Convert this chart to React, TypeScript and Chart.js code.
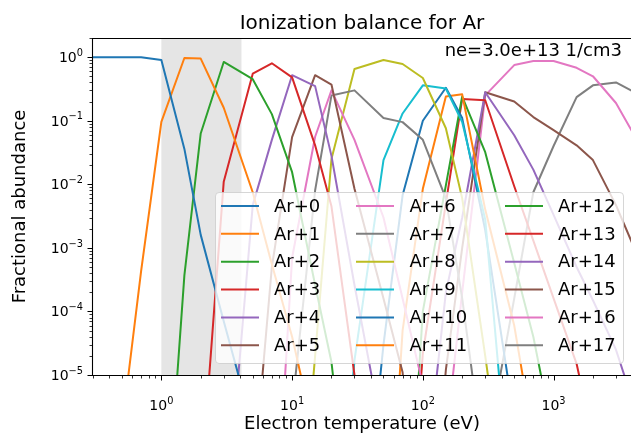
import React, { useEffect, useRef } from 'react';
import { Chart, registerables } from 'chart.js';

Chart.register(...registerables);

// Electron temperature grid (eV)
const temperatures = [0.3, 0.5, 0.7, 1, 1.5, 2, 3, 5, 7, 10, 15, 20, 30, 50, 70, 100, 150, 200, 300, 500, 700, 1000, 1500, 2000, 3000, 5000];

const ionLabels = ['Ar+0', 'Ar+1', 'Ar+2', 'Ar+3', 'Ar+4', 'Ar+5', 'Ar+6', 'Ar+7', 'Ar+8', 'Ar+9', 'Ar+10', 'Ar+11', 'Ar+12', 'Ar+13', 'Ar+14', 'Ar+15', 'Ar+16', 'Ar+17'];

const N = null;
const ar0 = [1.0, 1.0, 1.0, 0.9, 0.036, 1.6e-3, 7e-5, 1.5e-6, N, N, N, N, N, N, N, N, N, N, N, N, N, N, N, N, N, N];
const ar1 = [N, 1.5e-6, 4.3e-4, 0.096, 0.97, 0.95, 0.16, 7.5e-3, 5.5e-4, 4e-5, 1e-6, N, N, N, N, N, N, N, N, N, N, N, N, N, N, N];
const ar2 = [N, N, N, 3e-9, 3.7e-4, 0.063, 0.84, 0.45, 0.127, 0.0155, 2.6e-4, 1.6e-5, 1e-8, N, N, N, N, N, N, N, N, N, N, N, N, N];
const ar3 = [N, N, N, N, N, 1.6e-7, 0.011, 0.55, 0.8, 0.48, 0.041, 4.5e-3, 1e-5, 1e-9, N, N, N, N, N, N, N, N, N, N, N, N];
const ar4 = [N, N, N, N, N, N, 2e-8, 4.7e-3, 0.05, 0.52, 0.35, 0.028, 2.6e-4, 1e-6, N, N, N, N, N, N, N, N, N, N, N, N];
const ar5 = [N, N, N, N, N, N, N, 1.7e-7, 5e-4, 0.055, 0.52, 0.37, 8.5e-3, 1.6e-4, 1.1e-5, 1e-8, N, N, N, N, N, N, N, N, N, N];
const ar6 = [N, N, N, N, N, N, N, N, 3e-9, 7e-4, 0.056, 0.3, 0.05, 3e-3, 1.6e-4, 7e-6, 1e-9, N, N, N, N, N, N, N, N, N];
const ar7 = [N, N, N, N, N, N, N, N, N, 3e-6, 8e-3, 0.25, 0.3, 0.11, 0.095, 0.05, 6e-3, 1.6e-4, 3e-7, N, N, N, N, N, N, N];
const ar8 = [N, N, N, N, N, N, N, N, N, 1e-9, 2e-5, 0.025, 0.65, 0.9, 0.78, 0.47, 0.076, 6e-3, 2e-5, 1e-8, N, N, N, N, N, N];
const ar9 = [N, N, N, N, N, N, N, N, N, N, N, 1e-9, 1.7e-5, 0.024, 0.13, 0.36, 0.32, 0.095, 2.8e-3, 2e-8, N, N, N, N, N, N];
const ar10 = [N, N, N, N, N, N, N, N, N, N, N, N, 1e-9, 3e-5, 6.7e-3, 0.1, 0.33, 0.11, 1.9e-3, 2e-6, N, N, N, N, N, N];
const ar11 = [N, N, N, N, N, N, N, N, N, N, N, N, N, 1e-9, 5e-5, 8.5e-3, 0.24, 0.26, 4e-3, 6e-5, 1e-6, N, N, N, N, N];
const ar12 = [N, N, N, N, N, N, N, N, N, N, N, N, N, N, 1e-9, 1e-4, 9.6e-3, 0.24, 0.032, 5.8e-4, 4e-5, 1e-6, N, N, N, N];
const ar13 = [N, N, N, N, N, N, N, N, N, N, N, N, N, N, 1e-9, 2.2e-5, 5e-3, 0.22, 0.21, 9.3e-3, 1.3e-3, 1.6e-4, 1.5e-5, 1e-6, N, N];
const ar14 = [N, N, N, N, N, N, N, N, N, N, N, N, N, N, N, 1e-7, 2e-4, 3e-3, 0.28, 0.059, 0.017, 3.3e-3, 5e-4, 1.5e-4, 2.5e-5, 1e-6];
const ar15 = [N, N, N, N, N, N, N, N, N, N, N, N, N, N, N, 1e-9, 1.2e-5, 1e-3, 0.28, 0.2, 0.114, 0.071, 0.041, 0.024, 4.7e-3, 4e-4];
const ar16 = [N, N, N, N, N, N, N, N, N, N, N, N, N, N, N, 1e-10, 1e-6, 2e-4, 0.25, 0.75, 0.87, 0.87, 0.68, 0.5, 0.19, 0.03];
const ar17 = [N, N, N, N, N, N, N, N, N, N, N, N, N, N, N, N, N, N, 5e-7, 1.6e-4, 7.5e-3, 0.04, 0.235, 0.36, 0.4, 0.23];

const seriesValues = [ar0, ar1, ar2, ar3, ar4, ar5, ar6, ar7, ar8, ar9, ar10, ar11, ar12, ar13, ar14, ar15, ar16, ar17];

const palette = ['#1f77b4', '#ff7f0e', '#2ca02c', '#d62728', '#9467bd', '#8c564b', '#e377c2', '#7f7f7f', '#bcbd22', '#17becf'];

const shadeRange = [1, 4.1];
const xRange = [0.3, 3910];
const yRange = [1e-5, 2];
const xMajorTicks = [1, 10, 100, 1000];
const yMajorTicks = [1e-5, 1e-4, 1e-3, 1e-2, 1e-1, 1];

const titleText = 'Ionization balance for Ar';
const xLabel = 'Electron temperature (eV)';
const yLabel = 'Fractional abundance';
const noteText = 'ne=3.0e+13 1/cm3';

const FONT = "'DejaVu Sans', sans-serif";

function minorTicks(lo: number, hi: number): number[] {
  const out: number[] = [];
  for (let d = Math.floor(Math.log10(lo)) - 1; d <= Math.ceil(Math.log10(hi)); d++) {
    for (let k = 2; k <= 9; k++) {
      const v = k * Math.pow(10, d);
      if (v >= lo * 0.9999 && v <= hi * 1.0001) out.push(v);
    }
  }
  return out;
}

function drawPow(ctx: CanvasRenderingContext2D, value: number, x: number, y: number, align: 'center' | 'right', size: number) {
  const exp = Math.round(Math.log10(value));
  const base = '10';
  const sup = exp < 0 ? '\u2212' + String(-exp) : String(exp);
  const ss = size * 0.7;
  ctx.font = `${size}px ${FONT}`;
  const wb = ctx.measureText(base).width;
  ctx.font = `${ss}px ${FONT}`;
  const ws = ctx.measureText(sup).width;
  const total = wb + ws;
  const x0 = align === 'center' ? x - total / 2 : x - total;
  ctx.textAlign = 'left';
  ctx.textBaseline = 'alphabetic';
  ctx.font = `${size}px ${FONT}`;
  ctx.fillText(base, x0, y);
  ctx.font = `${ss}px ${FONT}`;
  ctx.fillText(sup, x0 + wb, y - size * 0.45);
}

const decorPlugin = {
  id: 'decor',
  beforeDatasetsDraw(chart: any) {
    const { ctx, chartArea: a, scales } = chart;
    const x0 = scales.x.getPixelForValue(shadeRange[0]);
    const x1 = scales.x.getPixelForValue(shadeRange[1]);
    ctx.save();
    ctx.fillStyle = '#e5e5e5';
    ctx.fillRect(x0, a.top, x1 - x0, a.bottom - a.top);
    ctx.restore();
  },
  afterDatasetsDraw(chart: any) {
    const { ctx, chartArea: a, scales } = chart;
    const xs = scales.x;
    const ys = scales.y;
    ctx.save();
    ctx.fillStyle = '#000';
    ctx.strokeStyle = '#000';

    // spines
    ctx.lineWidth = 1.1;
    ctx.beginPath();
    ctx.moveTo(Math.round(a.left) - 0.5, a.top);
    ctx.lineTo(Math.round(a.left) - 0.5, a.bottom);
    ctx.moveTo(a.left - 1, Math.round(a.top) + 0.5);
    ctx.lineTo(a.right + 2, Math.round(a.top) + 0.5);
    ctx.moveTo(a.left - 1, Math.round(a.bottom) + 0.5);
    ctx.lineTo(a.right + 2, Math.round(a.bottom) + 0.5);
    ctx.stroke();

    // x ticks
    const bottom = Math.round(a.bottom) + 0.5;
    ctx.beginPath();
    ctx.lineWidth = 1;
    xMajorTicks.forEach((v) => {
      const px = Math.round(xs.getPixelForValue(v)) + 0.5;
      ctx.moveTo(px, bottom);
      ctx.lineTo(px, bottom + 5);
    });
    ctx.stroke();
    ctx.beginPath();
    ctx.lineWidth = 0.8;
    minorTicks(xRange[0], xRange[1]).forEach((v) => {
      const px = Math.round(xs.getPixelForValue(v)) + 0.5;
      ctx.moveTo(px, bottom);
      ctx.lineTo(px, bottom + 3);
    });
    ctx.stroke();

    // y ticks
    const left = Math.round(a.left) - 0.5;
    ctx.beginPath();
    ctx.lineWidth = 1;
    yMajorTicks.forEach((v) => {
      const py = Math.round(ys.getPixelForValue(v)) + 0.5;
      ctx.moveTo(left, py);
      ctx.lineTo(left - 5, py);
    });
    ctx.stroke();
    ctx.beginPath();
    ctx.lineWidth = 0.8;
    minorTicks(yRange[0], yRange[1]).forEach((v) => {
      const py = Math.round(ys.getPixelForValue(v)) + 0.5;
      ctx.moveTo(left, py);
      ctx.lineTo(left - 3, py);
    });
    ctx.stroke();

    // tick labels
    xMajorTicks.forEach((v) => {
      drawPow(ctx, v, xs.getPixelForValue(v), a.bottom + 35, 'center', 14);
    });
    yMajorTicks.forEach((v) => {
      drawPow(ctx, v, a.left - 10, ys.getPixelForValue(v) + 5, 'right', 14);
    });

    // axis labels
    ctx.font = `18px ${FONT}`;
    ctx.textAlign = 'center';
    ctx.textBaseline = 'alphabetic';
    ctx.fillText(xLabel, (a.left + a.right) / 2, 429);
    ctx.save();
    ctx.translate(25, (a.top + a.bottom) / 2);
    ctx.rotate(-Math.PI / 2);
    ctx.fillText(yLabel, 0, 0);
    ctx.restore();

    // title
    ctx.font = `20px ${FONT}`;
    ctx.textAlign = 'center';
    ctx.fillText(titleText, (a.left + a.right) / 2, 29);

    // annotation
    ctx.font = `18px ${FONT}`;
    ctx.textAlign = 'right';
    ctx.fillText(noteText, 622, 56);

    // legend
    const lx = 215, ly = 192, lw = 408, lh = 171;
    ctx.beginPath();
    (ctx as any).roundRect(lx + 0.5, ly + 0.5, lw, lh, 3.6);
    ctx.fillStyle = 'rgba(255,255,255,0.8)';
    ctx.fill();
    ctx.strokeStyle = 'rgba(204,204,204,0.8)';
    ctx.lineWidth = 1;
    ctx.stroke();
    const handleX = [221, 356, 505];
    const textX = [274, 409.5, 558];
    chart.data.datasets.forEach((ds: any, i: number) => {
      const col = Math.floor(i / 6);
      const row = i % 6;
      const yy = 206 + row * 27.85;
      ctx.beginPath();
      ctx.strokeStyle = ds.borderColor;
      ctx.lineWidth = 2;
      ctx.lineCap = 'butt';
      ctx.moveTo(handleX[col], yy);
      ctx.lineTo(handleX[col] + 38, yy);
      ctx.stroke();
      ctx.fillStyle = '#000';
      ctx.font = `18px ${FONT}`;
      ctx.textAlign = 'left';
      ctx.textBaseline = 'middle';
      ctx.fillText(ds.label, textX[col], yy + 1);
    });
    ctx.restore();
  },
};

export default function App() {
  const ref = useRef<HTMLCanvasElement>(null);
  useEffect(() => {
    const canvas = ref.current;
    if (!canvas) return;
    const datasets = seriesValues.map((vals, i) => ({
      label: ionLabels[i],
      data: temperatures.map((t, j) => ({ x: t, y: vals[j] })),
      borderColor: palette[i % palette.length],
      backgroundColor: palette[i % palette.length],
      borderWidth: 2,
      borderJoinStyle: 'round' as const,
      pointRadius: 0,
      pointHoverRadius: 0,
      fill: false,
      tension: 0,
      spanGaps: false,
      clip: 0,
    }));
    const chart = new Chart(canvas, {
      type: 'line',
      data: { datasets },
      options: {
        animation: false,
        responsive: false,
        devicePixelRatio: 1,
        events: [],
        layout: { padding: { left: 93, top: 38, right: 0, bottom: 60 } },
        scales: {
          x: { type: 'logarithmic', min: xRange[0], max: xRange[1], display: false },
          y: { type: 'logarithmic', min: yRange[0], max: yRange[1], display: false },
        },
        plugins: { legend: { display: false }, tooltip: { enabled: false }, title: { display: false } },
      },
      plugins: [decorPlugin],
    } as any);
    return () => chart.destroy();
  }, []);
  return (
    <div style={{ position: 'fixed', left: 0, top: 0, width: 631, height: 435, background: '#fff', overflow: 'hidden' }}>
      <canvas ref={ref} width={631} height={435} style={{ display: 'block' }} />
    </div>
  );
}
